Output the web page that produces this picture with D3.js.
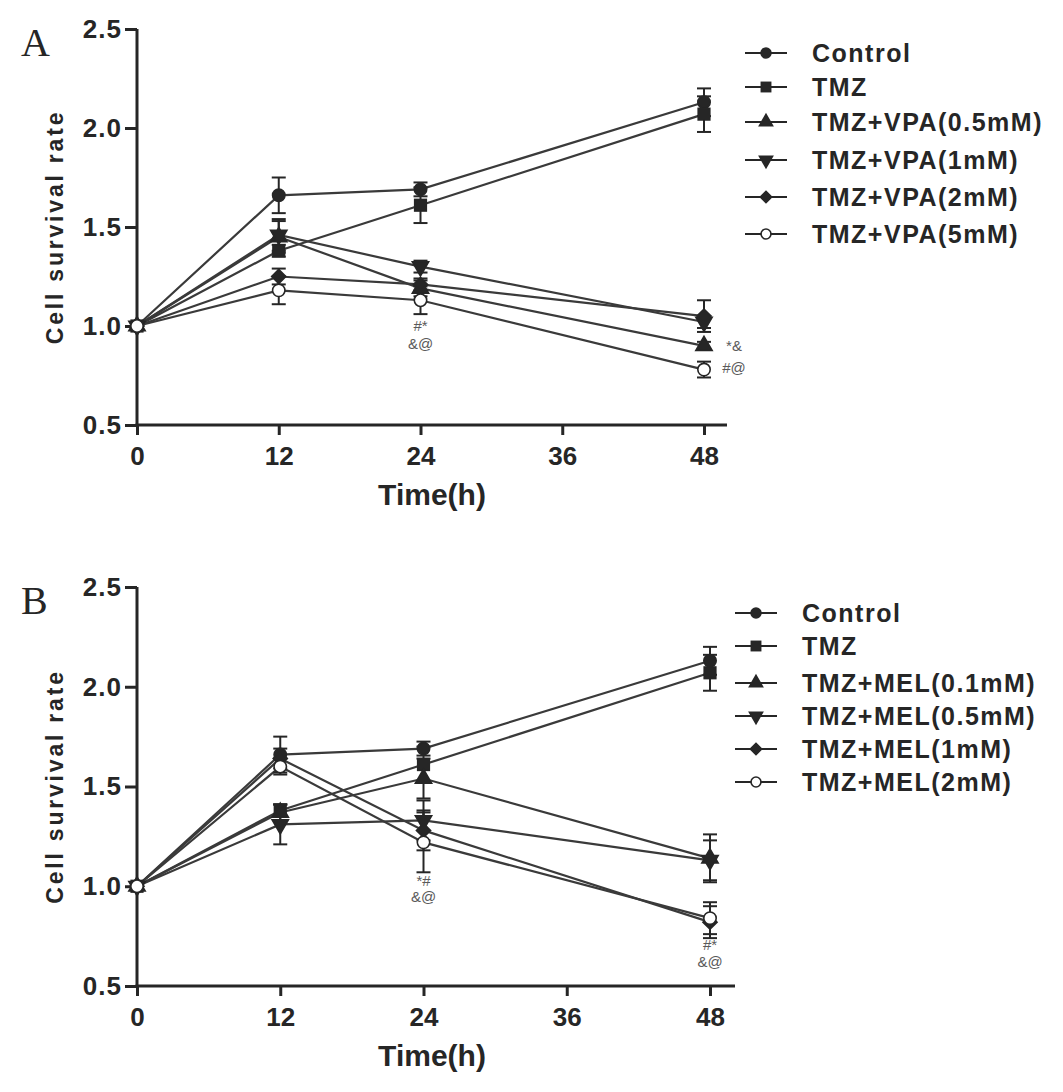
<!DOCTYPE html>
<html>
<head>
<meta charset="utf-8">
<script src="https://cdn.jsdelivr.net/npm/d3@7"></script>
<style>
  body { margin: 0; background: #fff; }
</style>
</head>
<body>
<div id="chart-area"></div>
<script>
var width = 1063;
var height = 1092;

// data
var times = [0, 12, 24, 48];
var xTicks = [0, 12, 24, 36, 48];
var yTicks = [0.5, 1.0, 1.5, 2.0, 2.5];

var namesA = ["Control", "TMZ", "TMZ+VPA(0.5mM)", "TMZ+VPA(1mM)", "TMZ+VPA(2mM)", "TMZ+VPA(5mM)"];
var valuesA = [
    [1.00, 1.66, 1.69, 2.13],
    [1.00, 1.38, 1.61, 2.07],
    [1.00, 1.45, 1.19, 0.90],
    [1.00, 1.46, 1.30, 1.02],
    [1.00, 1.25, 1.21, 1.05],
    [1.00, 1.18, 1.13, 0.78]
];
var errorsA = [
    [0, 0.09, 0.035, 0.07],
    [0, 0.03, 0.09, 0.09],
    [0, 0.08, 0.04, 0.02],
    [0, 0.08, 0.03, 0.03],
    [0, 0.04, 0.03, 0.08],
    [0, 0.07, 0.07, 0.04]
];
var annotA = [
    {t: 24, v: 1.00, label: "#*", side: "below"},
    {t: 24, v: 0.91, label: "&@", side: "below"},
    {t: 48, v: 0.90, label: "*&", side: "right"},
    {t: 48, v: 0.79, label: "#@", side: "right"}
];

var namesB = ["Control", "TMZ", "TMZ+MEL(0.1mM)", "TMZ+MEL(0.5mM)", "TMZ+MEL(1mM)", "TMZ+MEL(2mM)"];
var valuesB = [
    [1.00, 1.66, 1.69, 2.13],
    [1.00, 1.38, 1.61, 2.07],
    [1.00, 1.37, 1.54, 1.14],
    [1.00, 1.31, 1.33, 1.13],
    [1.00, 1.64, 1.28, 0.82],
    [1.00, 1.60, 1.22, 0.84]
];
var errorsB = [
    [0, 0.09, 0.035, 0.07],
    [0, 0.03, 0.09, 0.09],
    [0, 0.04, 0.10, 0.12],
    [0, 0.10, 0.10, 0.10],
    [0, 0.05, 0.10, 0.08],
    [0, 0.04, 0.15, 0.08]
];
var annotB = [
    {t: 24, v: 1.03, label: "*#", side: "below"},
    {t: 24, v: 0.945, label: "&@", side: "below"},
    {t: 48, v: 0.705, label: "#*", side: "below"},
    {t: 48, v: 0.62, label: "&@", side: "below"}
];

// marker shapes, same order in both panels
var shapes = ["circle", "square", "triangle", "triangleDown", "diamond", "circleOpen"];

var ink = "#262626";
var sans = "'Liberation Sans', Arial, sans-serif";

var svg = d3.select("#chart-area").append("svg")
    .attr("width", width)
    .attr("height", height);

function marker(sel, shape, scale) {
    var p;
    if (shape === "circle" || shape === "circleOpen") {
        p = sel.append("circle").attr("r", 6.2 * scale);
    } else if (shape === "square") {
        p = sel.append("rect")
            .attr("x", -5.8 * scale).attr("y", -5.8 * scale)
            .attr("width", 11.6 * scale).attr("height", 11.6 * scale);
    } else if (shape === "diamond") {
        p = sel.append("path")
            .attr("d", d3.symbol().type(d3.symbolSquare).size(100 * scale * scale)())
            .attr("transform", "rotate(45)");
    } else {
        p = sel.append("path")
            .attr("d", d3.symbol().type(d3.symbolTriangle).size(115 * scale * scale)())
            .attr("transform", shape === "triangleDown" ? "rotate(180)" : null);
    }
    p.attr("fill", shape === "circleOpen" ? "#fff" : ink)
        .attr("stroke", ink)
        .attr("stroke-width", 1.6);
}

function drawPanel(o) {
    var g = svg.append("g");

    var x = d3.scaleLinear().domain([0, 48]).range([o.left, o.right]);
    var y = d3.scaleLinear().domain([0.5, 2.5]).range([o.bottom, o.top]);

    // y axis
    var yAxis = g.append("g")
        .attr("transform", "translate(" + o.left + ",0)")
        .call(d3.axisLeft(y).tickValues(yTicks).tickFormat(d3.format(".1f")).tickSize(12).tickSizeOuter(0));
    // x axis
    var xAxis = g.append("g")
        .attr("transform", "translate(0," + o.bottom + ")")
        .call(d3.axisBottom(x).tickValues(xTicks).tickSize(10).tickSizeOuter(0));

    [xAxis, yAxis].forEach(function(a) {
        a.select(".domain").remove();
        a.selectAll("line").attr("stroke", ink).attr("stroke-width", 3);
        a.selectAll("text")
            .attr("fill", ink)
            .style("font-family", sans)
            .style("font-size", "26px")
            .style("font-weight", "bold");
    });
    yAxis.selectAll("text").attr("x", -15).style("letter-spacing", "1px");
    xAxis.selectAll("text").attr("y", 22);

    g.append("line")
        .attr("x1", o.left).attr("x2", o.left)
        .attr("y1", o.top).attr("y2", o.bottom + 1.5)
        .attr("stroke", ink).attr("stroke-width", 3);
    g.append("line")
        .attr("x1", o.left - 1.5).attr("x2", o.axisEnd)
        .attr("y1", o.bottom).attr("y2", o.bottom)
        .attr("stroke", ink).attr("stroke-width", 3);

    // titles
    g.append("text")
        .attr("transform", "translate(" + (o.left - 74) + "," + ((o.top + o.bottom) / 2) + ") rotate(-90)")
        .attr("text-anchor", "middle")
        .style("font-family", sans)
        .style("font-size", "23px")
        .style("font-weight", "bold")
        .style("letter-spacing", "2.8px")
        .attr("fill", ink)
        .text("Cell survival rate");

    g.append("text")
        .attr("x", 432)
        .attr("y", o.bottom + 80)
        .attr("text-anchor", "middle")
        .style("font-family", sans)
        .style("font-size", "30px")
        .style("font-weight", "bold")
        .attr("fill", ink)
        .text("Time(h)");

    g.append("text")
        .attr("x", 21)
        .attr("y", o.top + 27)
        .style("font-family", "'Liberation Serif', 'Times New Roman', serif")
        .style("font-size", "40px")
        .attr("fill", ink)
        .text(o.letter);

    // lines
    var line = d3.line()
        .x(function(d, i) { return x(times[i]); })
        .y(function(d) { return y(d); });

    o.values.forEach(function(vals) {
        g.append("path")
            .datum(vals)
            .attr("d", line)
            .attr("fill", "none")
            .attr("stroke", "#3a3a3a")
            .attr("stroke-width", 2.2);
    });

    // error bars
    o.values.forEach(function(vals, s) {
        vals.forEach(function(v, i) {
            var e = o.errors[s][i];
            if (!e) return;
            var cx = x(times[i]);
            var eg = g.append("g").attr("stroke", ink).attr("stroke-width", 2);
            eg.append("line").attr("x1", cx).attr("x2", cx).attr("y1", y(v - e)).attr("y2", y(v + e));
            eg.append("line").attr("x1", cx - 7).attr("x2", cx + 7).attr("y1", y(v - e)).attr("y2", y(v - e));
            eg.append("line").attr("x1", cx - 7).attr("x2", cx + 7).attr("y1", y(v + e)).attr("y2", y(v + e));
        });
    });

    // markers
    o.values.forEach(function(vals, s) {
        vals.forEach(function(v, i) {
            var mg = g.append("g").attr("transform", "translate(" + x(times[i]) + "," + y(v) + ")");
            marker(mg, shapes[s], 1);
        });
    });

    // significance marks
    o.annot.forEach(function(a) {
        g.append("text")
            .attr("x", a.side === "right" ? x(a.t) + 30 : x(a.t))
            .attr("y", y(a.v))
            .attr("dy", "0.35em")
            .attr("text-anchor", "middle")
            .style("font-family", sans)
            .style("font-size", "15px")
            .attr("fill", "#5a5a5a")
            .text(a.label);
    });

    // legend
    var legend = g.append("g");
    o.names.forEach(function(name, i) {
        var ly = o.legendRows[i];
        var row = legend.append("g").attr("transform", "translate(0," + ly + ")");
        row.append("line")
            .attr("x1", o.legendX).attr("x2", o.legendX + 42)
            .attr("stroke", ink).attr("stroke-width", 2);
        var mg = row.append("g").attr("transform", "translate(" + (o.legendX + 21) + ",0)");
        marker(mg, shapes[i], 0.8);
        row.append("text")
            .attr("x", o.legendX + 67)
            .attr("dy", "0.36em")
            .style("font-family", sans)
            .style("font-size", "25px")
            .style("font-weight", "bold")
            .style("letter-spacing", "1.5px")
            .attr("fill", ink)
            .text(name);
    });
}

drawPanel({
    letter: "A",
    left: 137, right: 704, axisEnd: 727,
    top: 29, bottom: 425,
    values: valuesA, errors: errorsA, names: namesA, annot: annotA,
    legendX: 745, legendRows: [53, 87, 122, 160, 197, 234]
});

drawPanel({
    letter: "B",
    left: 137, right: 710, axisEnd: 735,
    top: 587, bottom: 986,
    values: valuesB, errors: errorsB, names: namesB, annot: annotB,
    legendX: 735, legendRows: [613, 646, 683, 716, 749, 782]
});
</script>
</body>
</html>
